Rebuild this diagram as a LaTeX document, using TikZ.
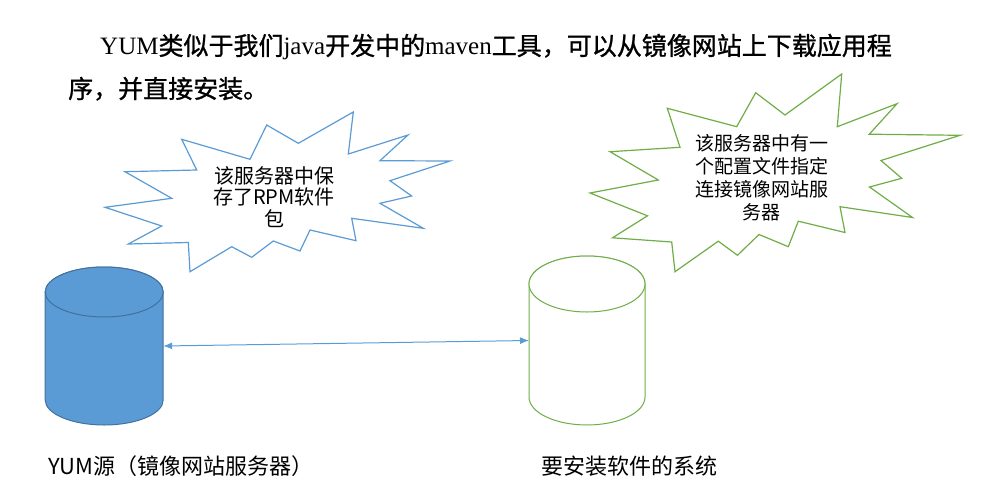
\documentclass[tikz,border=0pt]{standalone}
\usepackage{fontspec}
\setmainfont{Liberation Serif}
\newfontfamily\cjk{Noto Sans CJK SC}
\newfontfamily\cjkbold{Noto Sans CJK SC}[FakeBold=1]
\usetikzlibrary{arrows.meta, positioning}
\definecolor{srcblue}{HTML}{5B9BD5}
\definecolor{srcedge}{HTML}{41719C}
\definecolor{sysgreen}{HTML}{70AD47}
\tikzset{
	store/.style={draw=none, rectangle, inner sep=0pt, outer sep=0pt},
	server/.style={store, minimum width=118pt, minimum height=158pt},
	client/.style={store, minimum width=116pt, minimum height=169pt},
	burst/.style={line width=1.2pt, line join=miter, fill=white},
	note/.style={align=center, inner sep=0pt, font=\cjk\fontsize{19}{23}\selectfont},
	caption/.style={anchor=west, inner sep=0pt, font=\cjk\fontsize{22}{26}\selectfont},
	intro/.style={anchor=base west, inner sep=0pt, font=\fontsize{25}{30}\selectfont},
}
% #1 node, #2 x radius, #3 y radius, #4 fill, #5 edge
\newcommand{\drum}[5]{%
	\draw [line width=1pt, draw=#5, fill=#4] ([yshift=-#3pt]#1.north west) -- ([yshift=#3pt]#1.south west)
		arc[start angle=180, end angle=0, x radius=#2, y radius=#3] -- ([yshift=-#3pt]#1.north east)
		arc[start angle=0, end angle=-180, x radius=#2, y radius=#3] -- cycle;
	\draw [line width=1pt, draw=#5, fill=#4] ([yshift=-#3pt]#1.north) ellipse[x radius=#2, y radius=#3];
}

\begin{document}
\begin{tikzpicture}[x=1pt, y=-1pt]
	\useasboundingbox (0,0) rectangle (987,495);
	
	% intro text
	\node (line1) [intro] at (100,55) {YUM{\cjkbold 类似于我们}java{\cjkbold 开发中的}maven{\cjkbold 工具，可以从镜像网站上下载应用程}};
	\node (line2) [intro] at (68,98) {{\cjkbold 序，并直接安装。}};
	
	% bursts
	\draw [burst, draw=srcblue] (181.7,139.3) -- (250,159.3) -- (266.7,125) -- (298.3,143.3) -- (353.3,112) -- (348.3,154) -- (408,135) -- (380,160.7) -- (450,161) -- (390,180.7) -- (411.7,196) -- (380,203.3) -- (423.3,228.3) -- (351.7,218.3) -- (356,240.7) -- (310,230) -- (300,251) -- (273.3,241) -- (251.7,257.3) -- (231.7,246.7) -- (190,271.7) -- (188.3,242.5) -- (128.3,244) -- (161.7,226) -- (105,207.3) -- (171.7,198.3) -- (125,171.7) -- (196.7,170) -- cycle;
	\draw [burst, draw=sysgreen] (667.3,108.3) -- (736.7,126.7) -- (755.7,92.7) -- (785,115) -- (841.7,74) -- (837.3,126.7) -- (897,103.7) -- (869.3,134.2) -- (960,135.3) -- (881,160.5) -- (901.7,178.3) -- (869.5,187) -- (912.5,217.5) -- (840,206.7) -- (845,232.5) -- (798.3,221.2) -- (788.3,246.7) -- (759,234.5) -- (737.5,255.3) -- (718.3,241.2) -- (675,271.7) -- (671.7,242) -- (612.5,237.8) -- (647.5,215.8) -- (590,193) -- (658.3,180) -- (610,151.7) -- (680,147.3) -- cycle;
	
	\node (rpmnote) [note, font=\cjk\fontsize{20}{21.5}\selectfont] at (274,197) {该服务器中保\\存了RPM软件\\包};
	\node (confnote) [note] at (761.5,177.5) {该服务器中有一\\个配置文件指定\\连接镜像网站服\\务器};
	
	% servers
	\node (yumsrc) [server] at (104.2,346) {};
	\node (target) [client] at (587,340.5) {};
	\drum{yumsrc}{59}{25}{srcblue}{srcedge}
	\drum{target}{58}{28}{white}{sysgreen}
	
	\draw [line width=1pt, srcblue, <->, >={Latex[length=9pt, width=7pt]}] (yumsrc.east) -- (target.west);
	
	\node (srclabel) [caption] at (48,466) {YUM源（镜像网站服务器）};
	\node (tgtlabel) [caption] at (541,466) {要安装软件的系统};
	
\end{tikzpicture}
\end{document}
